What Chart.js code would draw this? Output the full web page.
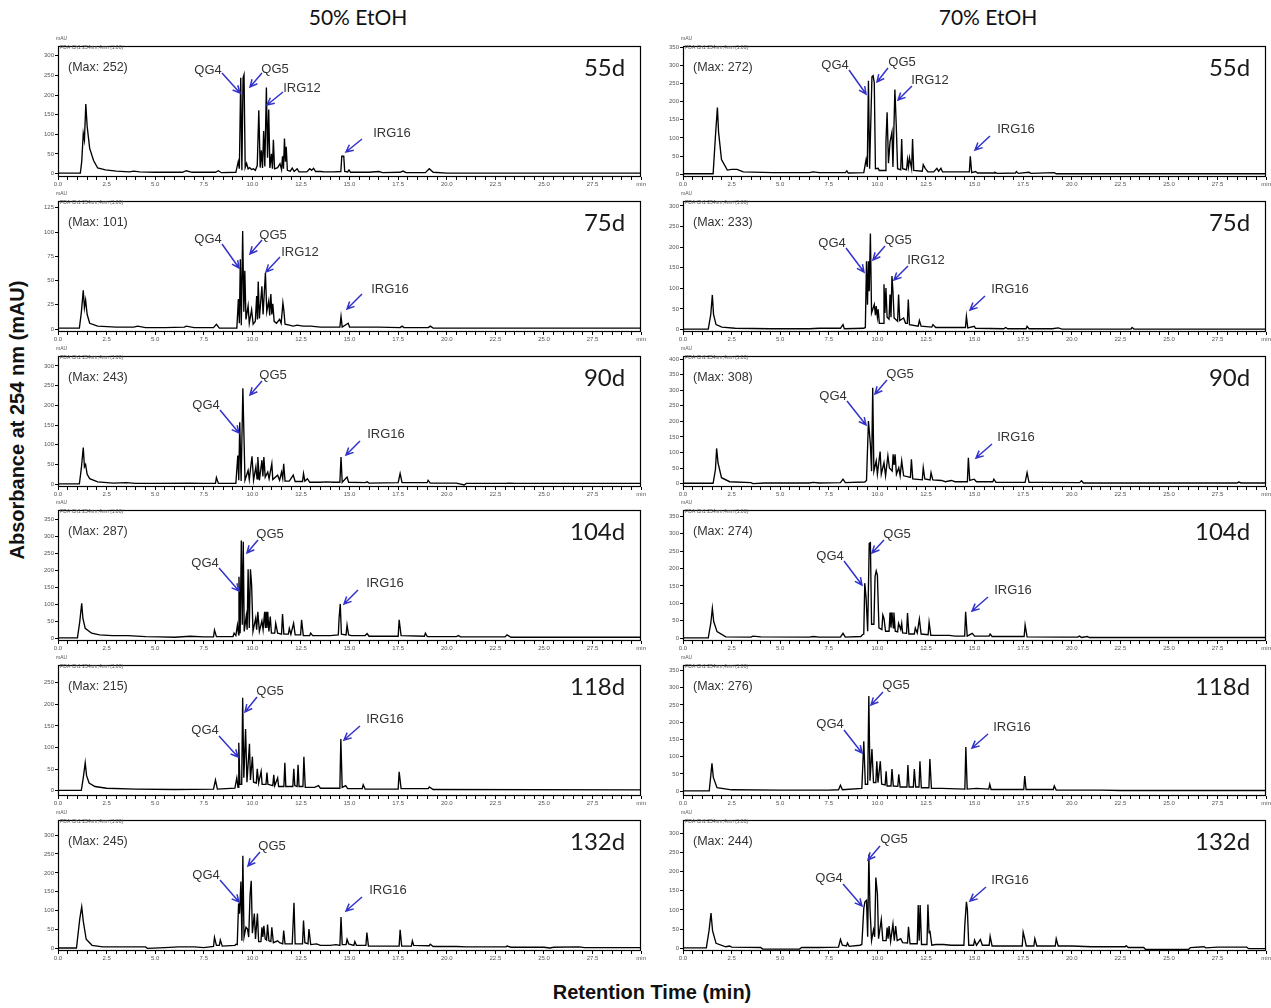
<!DOCTYPE html>
<html lang="en">
<head>
<meta charset="UTF-8" />
<title>HPLC chromatograms – 50% and 70% EtOH extracts</title>
<script src="https://cdn.jsdelivr.net/npm/chart.js@4.4.1/dist/chart.umd.min.js"></script>
<style>
  body { margin: 0; background: #fff; overflow: hidden; }
  #fig { position: relative; width: 1271px; height: 1008px; }
  canvas { position: absolute; }
  .title {
    position: absolute; top: 4px; transform: translateX(-50%);
    font-family: Lato, 'Open Sans', sans-serif; font-size: 21px; color: #111; white-space: nowrap;
  }
  #ylab {
    position: absolute; left: 17px; top: 420px; transform: translate(-50%, -50%) rotate(-90deg);
    font: bold 20px 'Liberation Sans', Arial, sans-serif; color: #111; white-space: nowrap;
  }
  #xlab {
    position: absolute; left: 652px; top: 981px; transform: translateX(-50%);
    font: bold 20px 'Liberation Sans', Arial, sans-serif; color: #111; white-space: nowrap;
  }
</style>
</head>
<body>
<div id="fig">
  <div class="title" style="left:358px">50% EtOH</div>
  <div class="title" style="left:988px">70% EtOH</div>
  <div id="ylab">Absorbance at 254 nm (mAU)</div>
  <div id="xlab">Retention Time (min)</div>
</div>
<script>
// x axis ticks (min)
const xTickStep = 0.5;
const xLabelStep = 2.5;
const xEnd = 30;

// harvest day of each row
const days = ['55d', '75d', '90d', '104d', '118d', '132d'];
// reported maximum absorbance (mAU) per row
const max50 = [252, 101, 243, 287, 215, 245];
const max70 = [272, 233, 308, 274, 276, 244];

// traces: [retention time (min), absorbance (mAU)]
const t50_55 = [[0,1],[1.15,1],[1.22,30],[1.3,102],[1.36,85],[1.43,177],[1.5,120],[1.63,64],[1.83,33],[2.04,14],[2.44,9],[3.0,6],[3.67,4],[3.9,6],[4.2,4],[5.0,3],[6.4,3],[6.6,7],[6.9,3],[8.1,3],[8.25,7],[8.4,2],[9.15,3],[9.27,30],[9.33,12],[9.4,244],[9.46,8],[9.52,244],[9.57,252],[9.63,15],[9.7,26],[9.78,12],[9.86,15],[9.95,10],[10.05,12],[10.15,8],[10.25,20],[10.33,161],[10.4,15],[10.46,59],[10.52,14],[10.58,108],[10.64,18],[10.72,219],[10.78,40],[10.84,163],[10.9,14],[10.98,50],[11.03,12],[11.08,86],[11.14,12],[11.3,15],[11.42,25],[11.5,10],[11.55,44],[11.6,12],[11.65,89],[11.7,30],[11.74,68],[11.8,8],[11.95,6],[12.05,14],[12.15,5],[12.3,12],[12.4,4],[12.8,4],[12.95,12],[13.05,8],[13.15,13],[13.25,5],[13.5,5],[13.7,4],[14.2,4],[14.55,5],[14.6,44],[14.7,44],[14.75,5],[14.9,4],[14.97,9],[15.05,3],[16.0,3],[16.5,5],[16.7,2],[17.6,3],[17.75,6],[17.9,2],[18.9,2],[19.1,12],[19.3,3],[20,1],[30,1]];
const t50_75 = [[0,1],[1.1,1],[1.2,17],[1.3,40],[1.36,22],[1.42,30],[1.5,15],[1.63,6],[2.04,3],[3.0,2],[3.9,2],[4.1,3],[4.5,1.5],[5.5,1.5],[6.5,2],[6.6,3],[7.0,1.5],[8.0,1.5],[8.15,5],[8.3,1],[9.2,1],[9.28,31],[9.33,6],[9.38,72],[9.43,4],[9.5,101],[9.56,18],[9.61,60],[9.67,10],[9.78,24],[9.84,6],[9.96,20],[10.04,5],[10.15,8],[10.22,34],[10.26,10],[10.3,49],[10.36,11],[10.49,44],[10.55,15],[10.67,58],[10.74,18],[10.84,29],[10.89,14],[10.95,36],[11.0,15],[11.05,26],[11.12,8],[11.24,6],[11.4,10],[11.48,6],[11.57,27],[11.62,19],[11.68,5],[11.9,4],[12.1,3],[12.3,4],[12.6,3],[13.0,3],[13.5,2],[14.0,2],[14.5,2],[14.56,13],[14.62,2],[14.93,6],[15.0,2],[16.5,2],[17.6,1.5],[17.7,3],[17.8,1.5],[19.05,1.5],[19.15,3],[19.3,1],[24.6,1],[30,1]];
const t50_90 = [[0,1],[1.1,1],[1.2,40],[1.3,93],[1.36,44],[1.42,50],[1.5,25],[1.63,14],[2.04,6],[2.85,3],[3.5,4],[4.0,2],[5.0,2],[6.8,3],[7.5,2],[8.1,2],[8.15,17],[8.25,2],[9.15,2],[9.25,73],[9.3,10],[9.35,157],[9.42,8],[9.51,243],[9.56,136],[9.62,10],[9.78,35],[9.84,12],[9.98,71],[10.06,10],[10.18,44],[10.24,14],[10.28,69],[10.36,10],[10.49,61],[10.54,20],[10.59,69],[10.66,18],[10.79,31],[10.86,14],[11.0,52],[11.05,12],[11.3,23],[11.4,10],[11.5,31],[11.56,15],[11.61,52],[11.68,8],[11.9,8],[12.1,23],[12.2,7],[12.58,7],[12.63,27],[12.7,8],[12.83,14],[12.95,5],[13.5,5],[13.8,6],[14.2,5],[14.5,5],[14.56,69],[14.62,5],[14.87,18],[14.95,5],[15.8,4],[15.9,6],[16.0,3],[17.5,4],[17.6,27],[17.7,4],[18.99,4],[19.04,10],[19.15,3],[20.5,3],[20.9,-2],[21.0,2],[23.0,2],[23.2,3],[23.5,2],[30,2]];
const t50_104 = [[0,1],[1.0,1],[1.12,49],[1.22,103],[1.28,59],[1.4,29],[1.73,15],[2.14,10],[2.8,8],[3.6,8],[4.5,5],[5.2,4],[6.0,3],[6.8,6],[7.5,4],[8.0,4],[8.05,24],[8.15,5],[9.0,5],[9.06,15],[9.15,8],[9.23,39],[9.29,10],[9.31,181],[9.37,15],[9.43,287],[9.48,40],[9.53,284],[9.58,20],[9.68,64],[9.73,25],[9.78,203],[9.84,30],[9.9,203],[9.96,157],[10.03,20],[10.17,59],[10.22,25],[10.28,78],[10.36,20],[10.49,51],[10.55,25],[10.63,78],[10.67,30],[10.71,78],[10.75,30],[10.79,78],[10.85,20],[10.92,64],[10.98,15],[11.15,15],[11.2,44],[11.3,15],[11.5,12],[11.55,71],[11.62,12],[11.85,12],[11.9,29],[11.98,12],[12.12,44],[12.2,10],[12.48,10],[12.53,54],[12.62,8],[12.95,8],[13.0,15],[13.1,8],[13.6,8],[14.0,8],[14.42,10],[14.46,59],[14.52,101],[14.58,12],[14.82,10],[14.87,39],[14.95,10],[15.1,8],[15.8,8],[15.9,14],[16.0,6],[17.5,6],[17.55,54],[17.65,8],[18.85,6],[18.9,15],[19.0,5],[20.5,5],[20.6,8],[20.7,4],[23.0,4],[23.1,10],[23.3,3],[30,3]];
const t50_118 = [[0,1],[1.2,1],[1.3,30],[1.4,65],[1.47,35],[1.6,18],[1.9,10],[2.5,6],[4.0,4],[6.0,3],[8.0,4],[8.1,25],[8.2,4],[9.1,6],[9.2,30],[9.26,8],[9.3,111],[9.36,15],[9.45,15],[9.5,215],[9.56,30],[9.65,143],[9.72,20],[9.85,109],[9.9,25],[10.0,79],[10.06,20],[10.2,18],[10.25,51],[10.32,18],[10.45,45],[10.5,15],[10.7,15],[10.75,42],[10.8,15],[11.05,12],[11.1,37],[11.15,12],[11.3,30],[11.35,10],[11.62,10],[11.67,65],[11.72,10],[12.08,10],[12.13,51],[12.18,12],[12.3,10],[12.35,60],[12.4,10],[12.6,10],[12.65,79],[12.72,8],[13.2,8],[13.4,12],[13.5,6],[14.5,6],[14.55,120],[14.62,8],[14.8,12],[14.9,5],[15.65,5],[15.7,14],[15.8,4],[17.5,4],[17.55,44],[17.65,5],[19.05,5],[19.1,9],[19.3,3],[30,2]];
const t50_132 = [[0,1],[0.95,1],[1.12,78],[1.22,110],[1.3,72],[1.45,24],[1.75,8],[2.3,4],[4.5,4],[4.6,0],[5.5,2],[6.2,4],[7.0,4],[7.5,2],[8.0,5],[8.05,29],[8.15,8],[8.3,8],[8.35,22],[8.45,6],[9.1,8],[9.16,11],[9.22,10],[9.29,119],[9.34,92],[9.41,177],[9.46,20],[9.51,245],[9.57,30],[9.67,56],[9.75,51],[9.81,30],[9.88,141],[9.94,179],[10.0,40],[10.1,92],[10.16,25],[10.26,92],[10.32,18],[10.44,18],[10.49,56],[10.54,30],[10.59,60],[10.66,25],[10.73,22],[10.78,63],[10.85,20],[10.95,18],[11.0,56],[11.08,15],[11.3,20],[11.4,15],[11.56,12],[11.61,47],[11.68,12],[12.05,12],[12.14,121],[12.2,12],[12.58,12],[12.63,74],[12.7,15],[12.86,12],[12.91,51],[13.0,10],[13.3,12],[13.5,8],[14.0,8],[14.3,10],[14.5,8],[14.56,83],[14.62,10],[14.82,10],[14.87,24],[14.95,12],[15.22,8],[15.27,18],[15.35,8],[15.84,8],[15.89,42],[15.97,6],[17.55,6],[17.6,49],[17.68,6],[18.18,6],[18.23,20],[18.3,8],[19.1,7],[19.15,11],[19.3,5],[20.5,5],[21.0,4],[23.05,4],[23.1,6],[23.3,3],[25.0,3],[25.3,1],[25.5,3],[26.8,4],[27.1,2],[30,2]];

const t70_55 = [[0,1],[1.55,1],[1.67,106],[1.77,184],[1.83,116],[1.98,40],[2.28,11],[2.5,13],[2.78,13],[3.1,6],[4.6,4],[6.5,4],[6.7,6],[7.0,4],[8.35,4],[8.43,9],[8.5,3],[9.3,4],[9.42,40],[9.48,20],[9.54,258],[9.6,15],[9.72,269],[9.78,272],[9.84,253],[9.9,15],[10.04,16],[10.1,10],[10.4,10],[10.44,89],[10.5,171],[10.57,30],[10.65,89],[10.75,116],[10.8,20],[10.9,234],[10.97,136],[11.04,15],[11.2,12],[11.25,97],[11.3,15],[11.5,12],[11.55,40],[11.6,20],[11.65,45],[11.76,15],[11.81,97],[11.87,10],[12.31,8],[12.36,26],[12.46,16],[12.6,6],[12.9,6],[13.06,16],[13.15,8],[13.27,16],[13.35,6],[14.73,6],[14.78,49],[14.85,4],[15.05,7],[15.15,3],[16.0,3],[16.05,5],[16.15,2],[17.1,3],[17.15,7],[17.25,2],[17.8,5],[17.9,2],[19.1,4],[19.2,1],[30,1]];
const t70_75 = [[0,1],[1.3,1],[1.43,37],[1.51,84],[1.57,37],[1.7,12],[2.0,6],[2.68,3],[4.5,2],[6.5,2],[7.0,3],[8.1,3],[8.23,12],[8.3,2],[9.3,3],[9.38,5],[9.44,166],[9.49,60],[9.54,166],[9.58,93],[9.64,233],[9.7,40],[9.84,61],[9.9,35],[9.94,57],[10.0,30],[10.04,49],[10.1,15],[10.29,15],[10.34,110],[10.39,40],[10.44,101],[10.5,30],[10.6,25],[10.65,85],[10.7,30],[10.75,130],[10.8,93],[10.86,28],[11.04,20],[11.09,85],[11.15,22],[11.35,28],[11.45,15],[11.54,15],[11.59,73],[11.65,12],[12.1,8],[12.16,22],[12.25,8],[12.8,6],[12.86,12],[13.0,5],[14.53,5],[14.58,32],[14.65,4],[14.98,8],[15.05,3],[16.5,2],[16.6,5],[16.7,2],[17.65,2],[17.7,8],[17.8,2],[19.0,2],[19.3,4],[19.5,1],[23.05,1],[23.1,5],[23.2,1],[30,1]];
const t70_90 = [[0,1],[1.55,1],[1.67,46],[1.73,113],[1.8,67],[1.98,19],[2.4,6],[3.5,3],[3.6,0],[4.2,2],[6.5,2],[6.7,4],[7.0,2],[8.1,3],[8.23,14],[8.35,3],[9.35,5],[9.44,10],[9.54,201],[9.64,126],[9.7,40],[9.76,308],[9.82,40],[9.94,73],[10.0,30],[10.14,103],[10.2,30],[10.34,67],[10.42,25],[10.54,89],[10.62,50],[10.76,40],[10.81,94],[10.86,60],[10.91,94],[10.98,30],[11.1,51],[11.17,25],[11.25,73],[11.35,25],[11.7,20],[11.75,78],[11.82,15],[12.31,12],[12.36,51],[12.44,15],[12.71,12],[12.76,35],[12.85,12],[13.3,10],[13.5,6],[13.8,10],[14.0,6],[14.63,6],[14.68,83],[14.75,10],[14.98,14],[15.1,6],[15.94,6],[15.99,14],[16.1,4],[17.6,4],[17.7,35],[17.8,4],[18.4,4],[20.4,3],[20.5,9],[20.6,2],[28.5,2],[28.6,5],[28.7,2],[30,2]];
const t70_104 = [[0,1],[1.3,1],[1.43,43],[1.51,86],[1.58,48],[1.75,19],[2.2,4],[3.5,3],[3.6,6],[4.0,4],[6.5,3],[6.7,5],[7.0,3],[8.1,3],[8.23,14],[8.35,3],[9.15,5],[9.23,10],[9.3,12],[9.35,158],[9.42,115],[9.5,20],[9.58,272],[9.64,274],[9.7,40],[9.82,40],[9.88,177],[9.94,193],[10.0,181],[10.08,30],[10.23,25],[10.28,67],[10.34,57],[10.42,20],[10.6,20],[10.65,74],[10.7,30],[10.75,74],[10.82,30],[10.85,74],[10.92,20],[11.04,18],[11.09,43],[11.2,25],[11.25,43],[11.3,15],[11.5,14],[11.55,72],[11.62,12],[11.9,12],[11.95,29],[12.05,15],[12.16,55],[12.25,12],[12.61,10],[12.66,46],[12.75,8],[13.3,8],[13.7,8],[14.0,6],[14.49,6],[14.54,76],[14.62,6],[14.88,14],[15.0,6],[15.75,6],[15.8,12],[15.9,5],[17.55,5],[17.6,38],[17.7,4],[19.5,3],[20.3,3],[20.4,6],[20.5,2],[20.8,5],[20.9,2],[30,2]];
const t70_118 = [[0,1],[1.35,1],[1.42,40],[1.49,81],[1.56,40],[1.75,10],[2.5,4],[5.0,3],[7.5,3],[8.0,4],[8.1,17],[8.2,4],[9.2,8],[9.3,145],[9.38,20],[9.5,20],[9.56,276],[9.62,30],[9.72,122],[9.8,25],[9.92,25],[9.97,87],[10.03,25],[10.15,87],[10.22,20],[10.4,18],[10.45,58],[10.5,15],[10.7,15],[10.75,64],[10.82,15],[11.05,14],[11.1,49],[11.17,12],[11.52,12],[11.57,76],[11.63,12],[11.85,12],[11.9,64],[11.97,12],[12.14,12],[12.19,87],[12.26,10],[12.65,10],[12.7,93],[12.78,8],[13.3,8],[14.5,6],[14.55,128],[14.62,6],[15.1,8],[15.73,6],[15.78,20],[15.85,5],[17.53,5],[17.58,44],[17.65,5],[19.05,5],[19.1,15],[19.2,3],[21.5,3],[22.5,2],[30,2]];
const t70_132 = [[0,1],[1.2,1],[1.34,46],[1.44,92],[1.52,46],[1.7,13],[2.2,4],[2.4,6],[2.5,3],[4.0,2],[4.1,-2],[6.0,-2],[6.1,2],[7.0,2],[8.0,3],[8.1,23],[8.2,8],[8.41,6],[8.46,14],[8.55,5],[9.1,8],[9.2,10],[9.3,104],[9.36,121],[9.44,125],[9.5,30],[9.56,244],[9.62,104],[9.7,20],[9.8,48],[9.86,30],[9.92,184],[10.0,142],[10.06,25],[10.2,75],[10.28,20],[10.45,20],[10.5,54],[10.55,25],[10.6,58],[10.68,18],[10.8,63],[10.87,20],[10.94,58],[11.02,20],[11.2,25],[11.3,15],[11.55,14],[11.6,56],[11.68,12],[12.05,12],[12.1,113],[12.15,20],[12.2,113],[12.27,10],[12.55,10],[12.6,114],[12.66,40],[12.7,46],[12.8,8],[13.0,10],[13.4,10],[13.8,8],[14.3,8],[14.45,8],[14.5,63],[14.58,121],[14.63,100],[14.7,8],[14.95,8],[15.0,21],[15.1,8],[15.3,23],[15.4,8],[15.75,8],[15.8,31],[15.9,6],[17.45,6],[17.5,42],[17.58,25],[17.66,6],[18.05,6],[18.1,25],[18.2,6],[19.15,6],[19.2,25],[19.3,6],[20.0,6],[21.0,4],[22.75,4],[22.8,7],[22.9,2],[23.7,2],[23.8,-3],[26.0,-3],[26.1,2],[26.8,4],[26.9,1],[27.5,3],[29.0,3],[29.1,-1],[30,-1]];

const traces50 = [t50_55, t50_75, t50_90, t50_104, t50_118, t50_132];
const traces70 = [t70_55, t70_75, t70_90, t70_104, t70_118, t70_132];

// y axis range per panel: [min, max, step]
const yAxes50 = [[-9, 325, 50], [-3, 132, 25], [-7, 325, 50], [-8, 377, 50], [-12, 291, 50], [-7, 340, 50]];
const yAxes70 = [[-8, 354, 50], [-6, 312, 50], [-11, 410, 50], [-8, 368, 50], [-14, 366, 50], [-7, 334, 50]];

// peak callouts: label, text centre, arrow tail, arrow tip (px from the frame's top-left)
const callouts50 = [
  [['QG4',150,24,164,27,182,47],['QG5',217,23,204,27,192,41],['IRG12',244,42,225,46,209,59],['IRG16',334,87,304,93,288,106]],
  [['QG4',150,38,164,43,181,67],['QG5',215,34,204,39,192,53],['IRG12',242,51,222,56,208,71],['IRG16',332,88,304,93,289,108]],
  [['QG4',148,49,162,54,181,77],['QG5',215,19,204,25,192,39],['IRG16',328,78,302,85,288,99]],
  [['QG4',147,53,161,58,181,81],['QG5',212,24,200,30,189,43],['IRG16',327,73,300,80,286,94]],
  [['QG4',147,65,161,71,180,92],['QG5',212,26,199,32,187,47],['IRG16',327,54,302,61,286,75]],
  [['QG4',148,55,162,60,181,82],['QG5',214,26,202,32,190,46],['IRG16',330,70,304,77,288,91]]
];
const callouts70 = [
  [['QG4',152,19,166,24,183,48],['QG5',219,16,205,22,194,36],['IRG12',247,34,229,40,215,54],['IRG16',333,83,307,90,292,104]],
  [['QG4',149,42,163,47,181,71],['QG5',215,39,202,45,190,59],['IRG12',243,59,225,65,211,79],['IRG16',327,88,302,95,287,109]],
  [['QG4',150,40,164,45,183,69],['QG5',217,18,204,24,192,38],['IRG16',333,81,309,88,293,102]],
  [['QG4',147,46,161,51,179,75],['QG5',214,24,201,30,189,43],['IRG16',330,80,305,87,289,101]],
  [['QG4',147,59,161,65,179,88],['QG5',213,20,200,27,188,40],['IRG16',329,62,305,69,289,83]],
  [['QG4',146,58,160,64,179,86],['QG5',211,19,197,26,185,40],['IRG16',327,60,303,67,287,81]]
];

// frame boxes, arrows and captions drawn on top of each chromatogram
const panelDecor = {
  id: 'panelDecor',
  afterDraw(chart, args, o) {
    const { ctx, chartArea: a } = chart;
    ctx.save();
    ctx.strokeStyle = '#000';
    ctx.lineWidth = 1.2;
    ctx.strokeRect(Math.round(a.left) + 0.5, Math.round(a.top) + 0.5,
      Math.round(a.right - a.left) - 1, Math.round(a.bottom - a.top) - 1);

    ctx.fillStyle = '#555';
    ctx.font = '5px "Liberation Sans", Arial, sans-serif';
    ctx.textBaseline = 'middle';
    ctx.textAlign = 'left';
    ctx.fillText('mAU', a.left - 2, a.top - 7);
    ctx.fillText('PDA Ch1 254nm,4nm (1.00)', a.left + 2, a.top + 2);

    ctx.fillStyle = '#333';
    ctx.font = '12.5px "Liberation Sans", Arial, sans-serif';
    ctx.fillText('(Max: ' + o.max + ')', a.left + 10, a.top + 22);

    ctx.fillStyle = '#1a1a1a';
    ctx.font = '24px Lato, "Open Sans", sans-serif';
    ctx.textAlign = 'right';
    ctx.fillText(o.day, a.right - 16, a.top + 22);

    ctx.font = '13px "Liberation Sans", Arial, sans-serif';
    ctx.textAlign = 'center';
    o.callouts.forEach(([label, tx, ty, x0, y0, x1, y1]) => {
      ctx.fillStyle = '#333';
      ctx.fillText(label, a.left + tx, a.top + ty);
      const X0 = a.left + x0, Y0 = a.top + y0, X1 = a.left + x1, Y1 = a.top + y1;
      const ang = Math.atan2(Y1 - Y0, X1 - X0);
      ctx.strokeStyle = '#3333cc';
      ctx.lineWidth = 1.5;
      ctx.beginPath();
      ctx.moveTo(X0, Y0);
      ctx.lineTo(X1, Y1);
      ctx.moveTo(X1 - 8 * Math.cos(ang - 0.45), Y1 - 8 * Math.sin(ang - 0.45));
      ctx.lineTo(X1, Y1);
      ctx.lineTo(X1 - 8 * Math.cos(ang + 0.45), Y1 - 8 * Math.sin(ang + 0.45));
      ctx.stroke();
    });
    ctx.restore();
  }
};

const fig = document.getElementById('fig');
const frameW = 584, frameH = 131;
const padL = 24, padT = 14, padR = 5, padB = 14;

// ticks at whole multiples of the step only, so the axis ends carry no extra labels
function stepTicks(step, hi) {
  const out = [];
  for (let k = 0; k * step <= hi + 1e-9; k++) out.push({ value: +(k * step).toFixed(2) });
  return out;
}

function makePanel(col, row) {
  const trace = col ? traces70[row] : traces50[row];
  const [yMin, yMax, yStep] = col ? yAxes70[row] : yAxes50[row];
  const left = col ? 683 : 58;
  const top = Math.round(46 + 154.8 * row);

  const cv = document.createElement('canvas');
  cv.width = frameW + padL + padR;
  cv.height = frameH + padT + padB;
  cv.style.left = (left - padL) + 'px';
  cv.style.top = (top - padT) + 'px';
  fig.appendChild(cv);

  new Chart(cv, {
    type: 'line',
    data: {
      datasets: [{
        data: trace,
        borderColor: '#000',
        borderWidth: 1.35,
        pointRadius: 0,
        tension: 0,
        fill: false
      }]
    },
    options: {
      responsive: false,
      animation: false,
      events: [],
      layout: { padding: { top: padT, right: padR, left: 0, bottom: 0 } },
      plugins: {
        legend: { display: false },
        tooltip: { enabled: false },
        panelDecor: {
          max: col ? max70[row] : max50[row],
          day: days[row],
          callouts: col ? callouts70[row] : callouts50[row]
        }
      },
      scales: {
        x: {
          type: 'linear',
          min: 0,
          max: xEnd,
          afterFit: s => { s.height = padB; },
          afterBuildTicks: s => { s.ticks = stepTicks(xTickStep, xEnd); },
          grid: { drawOnChartArea: false, tickLength: 3, color: '#000' },
          border: { display: false },
          ticks: {
            autoSkip: false,
            maxRotation: 0,
            padding: 1,
            color: '#555',
            font: { size: 6, family: 'Liberation Sans' },
            callback: v => {
              if (Math.abs(v - xEnd) < 1e-6) return 'min';
              const k = v / xLabelStep;
              return Math.abs(k - Math.round(k)) < 1e-6 ? v.toFixed(1) : '';
            }
          }
        },
        y: {
          min: yMin,
          max: yMax,
          afterFit: s => { s.width = padL; },
          afterBuildTicks: s => { s.ticks = stepTicks(yStep, yMax); },
          grid: { drawOnChartArea: false, tickLength: 3, color: '#000' },
          border: { display: false },
          ticks: {
            autoSkip: false,
            padding: 1,
            color: '#555',
            font: { size: 6, family: 'Liberation Sans' },
            callback: v => String(v)
          }
        }
      }
    },
    plugins: [panelDecor]
  });
}

for (let row = 0; row < 6; row++) {
  makePanel(0, row);
  makePanel(1, row);
}
</script>
</body>
</html>
